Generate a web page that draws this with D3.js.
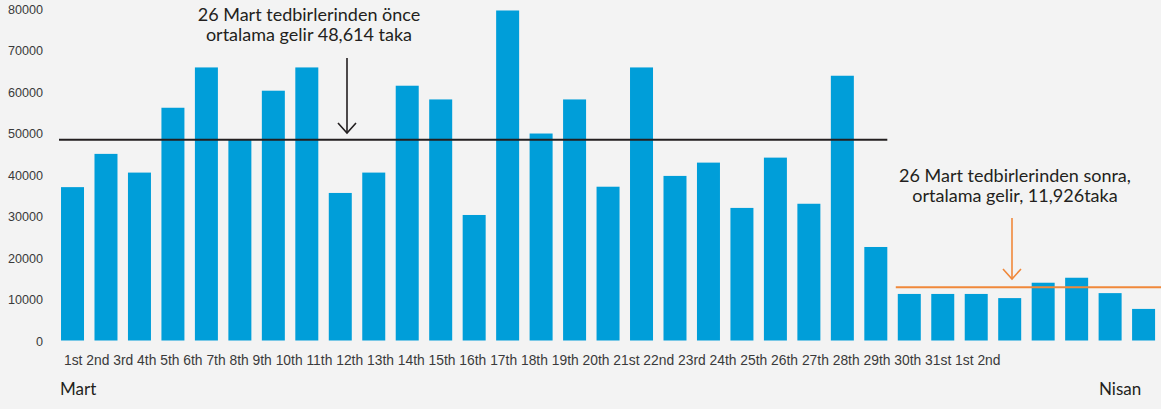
<!DOCTYPE html>
<html><head><meta charset="utf-8">
<script src="https://cdn.jsdelivr.net/npm/d3@7"></script>
<style>
html,body{margin:0;padding:0;background:#f3f3f3;}
svg{display:block;}
</style></head>
<body>
<svg id="chart" width="1161" height="409"></svg>
<script>
const categories = ["1st","2nd","3rd","4th","5th","6th","7th","8th","9th","10th","11th","12th","13th","14th","15th","16th","17th","18th","19th","20th","21st","22nd","23rd","24th","25th","26th","27th","28th","29th","30th","31st","1st","2nd"];
const values = [36900,44900,40400,56000,65700,48300,60100,65700,35500,40400,61300,58000,30200,79400,49800,58000,37000,65700,39600,42800,31900,44000,32900,63700,22500,11200,11200,11200,10200,13900,15100,11400,7600];
const yTicks = [0,10000,20000,30000,40000,50000,60000,70000,80000];
const avgBefore = 48300;
const avgAfter = 12800;
const beforeCount = 25;
const noteBefore = ["26 Mart tedbirlerinden önce","ortalama gelir 48,614 taka"];
const noteAfter = ["26 Mart tedbirlerinden sonra,","ortalama gelir, 11,926taka"];
const monthLabels = ["Mart","Nisan"];

const svg = d3.select("#chart");
const idx = values.map((d,i)=>i);
const x = d3.scaleBand().domain(idx).range([56, 1160.1]).paddingInner(0.313).paddingOuter(0.15);
const y = d3.scaleLinear().domain([0,80000]).range([340.5, 8]);

// y axis
const yAxis = svg.append("g").attr("transform","translate(46,1)")
  .call(d3.axisLeft(y).tickValues(yTicks).tickSize(0).tickPadding(3).tickFormat(d3.format("d")));
yAxis.select(".domain").remove();
yAxis.selectAll("text").attr("font-family","'Liberation Sans', Arial, sans-serif")
  .attr("font-size","12.6px").attr("fill","#3a3a3a");

// bars
svg.append("g").selectAll("rect").data(values).join("rect")
  .attr("x",(d,i)=>x(i)).attr("width",x.bandwidth())
  .attr("y",d=>y(d)).attr("height",d=>y(0)-y(d))
  .attr("fill","#009ed9");

// average lines
svg.append("line").attr("x1",59).attr("x2",x(beforeCount-1)+x.bandwidth())
  .attr("y1",y(avgBefore)).attr("y2",y(avgBefore)).attr("stroke","#231f20").attr("stroke-width",2);
svg.append("line").attr("x1",x(beforeCount)-2).attr("x2",1161)
  .attr("y1",y(avgAfter)).attr("y2",y(avgAfter)).attr("stroke","#f0883a").attr("stroke-width",2);

// arrows
function arrow(xp, y1, y2, color, hw, hl){
  const g = svg.append("g").attr("stroke",color).attr("stroke-width",1.6).attr("fill","none");
  g.append("line").attr("x1",xp).attr("x2",xp).attr("y1",y1).attr("y2",y2);
  g.append("polyline").attr("points",`${xp-hw},${y2-hl} ${xp},${y2} ${xp+hw},${y2-hl}`);
}
arrow(347, 58, 133, "#231f20", 9, 10);
arrow(1012, 218, 279, "#f0883a", 9, 10);

// annotations
const af = "Lato, 'Open Sans', sans-serif";
function note(lines, cx, y0){
  const t = svg.append("text").attr("font-family",af).attr("font-size","18px").attr("fill","#231f20").attr("text-anchor","middle");
  lines.forEach((l,i)=>t.append("tspan").attr("x",cx).attr("y",y0+i*20).text(l));
}
note(noteBefore, 309, 21);
note(noteAfter, 1015, 182);

// x labels (single running line as in source)
svg.append("text").attr("x",64).attr("y",365)
  .attr("font-family","'Liberation Sans', Arial, sans-serif").attr("font-size","13.85px").attr("fill","#3a3a3a")
  .text(categories.join(" "));

// month labels
svg.append("text").attr("x",60).attr("y",395).attr("font-family",af).attr("font-size","17px").attr("fill","#231f20").text(monthLabels[0]);
svg.append("text").attr("x",1099).attr("y",395).attr("font-family",af).attr("font-size","17px").attr("fill","#231f20").text(monthLabels[1]);
</script>
</body></html>
